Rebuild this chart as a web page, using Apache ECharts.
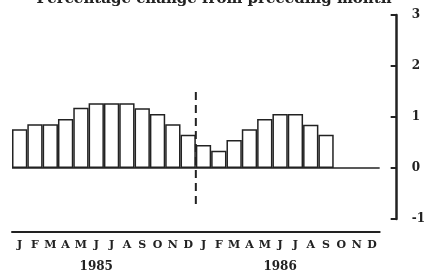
<!DOCTYPE html>
<html><head><meta charset="utf-8">
<script src="https://cdn.jsdelivr.net/npm/echarts@6/dist/echarts.min.js"></script>
<style>html,body{margin:0;padding:0;background:#fff}#c{width:428px;height:277px}</style>
</head><body><div id="c"></div>
<script>
const months = ['J','F','M','A','M','J','J','A','S','O','N','D'];
const years = ['1985','1986'];
const values1985 = [0.76, 0.86, 0.86, 0.96, 1.18, 1.27, 1.27, 1.27, 1.17, 1.06, 0.86, 0.65];
const values1986 = [0.45, 0.34, 0.55, 0.76, 0.96, 1.06, 1.06, 0.85, 0.65, null, null, null];
const breakLine = [[12, 1.49], [12, -0.73]];
const titleText = 'Percentage change from preceding month';

const categories = [];
const yearCats = [];
years.forEach(y => months.forEach((m, i) => { categories.push(y + '-' + i); yearCats.push(i === 5 ? y : ''); }));
const monthLabels = [];
years.forEach(() => months.forEach(m => monthLabels.push(m)));
const values = values1985.concat(values1986);

const font = 'DejaVu Serif';
const ink = '#222';
const chart = echarts.init(document.getElementById('c'), null, {renderer: 'canvas'});
chart.setOption({
  animation: false,
  backgroundColor: '#fff',
  title: {text: titleText, left: 'center', top: -8, padding: 0,
    textStyle: {fontFamily: font, fontWeight: 'bold', fontSize: 15, color: ink}},
  grid: {left: 12, right: 42, top: 15, bottom: 58, containLabel: false},
  xAxis: [
    {type: 'category', data: categories, position: 'bottom', offset: 13,
     axisLine: {onZero: false, lineStyle: {color: ink, width: 2}},
     axisTick: {show: false},
     axisLabel: {interval: 0, margin: 8, fontFamily: font, fontWeight: 'bold', fontSize: 11, color: ink,
       formatter: (v, i) => monthLabels[i]}},
    {type: 'category', data: yearCats, position: 'bottom', offset: 42,
     axisLine: {show: false}, axisTick: {show: false},
     axisLabel: {interval: 0, margin: 0, fontFamily: font, fontWeight: 'bold', fontSize: 12, color: ink}},
    {type: 'value', min: 0, max: 24, show: false}
  ],
  yAxis: {type: 'value', min: -1, max: 3, interval: 1, position: 'right', offset: 17,
    axisLine: {show: true, onZero: false, lineStyle: {color: ink, width: 2.5}},
    axisTick: {show: true, inside: true, length: 6, lineStyle: {color: ink, width: 2}},
    splitLine: {show: false},
    axisLabel: {margin: 15, fontFamily: font, fontWeight: 'bold', fontSize: 12, color: ink}},
  series: [
    {type: 'bar', xAxisIndex: 0, data: values, barCategoryGap: '0%',
     itemStyle: {color: '#fff', borderColor: ink, borderWidth: 1.5},
     markLine: {silent: true, symbol: 'none', label: {show: false},
       lineStyle: {color: ink, width: 1.5, type: 'solid'}, data: [{yAxis: 0}]}},
    {type: 'line', xAxisIndex: 2, data: breakLine, symbol: 'none',
     lineStyle: {color: ink, width: 2, type: [8, 5]}}
  ]
});
</script></body></html>
